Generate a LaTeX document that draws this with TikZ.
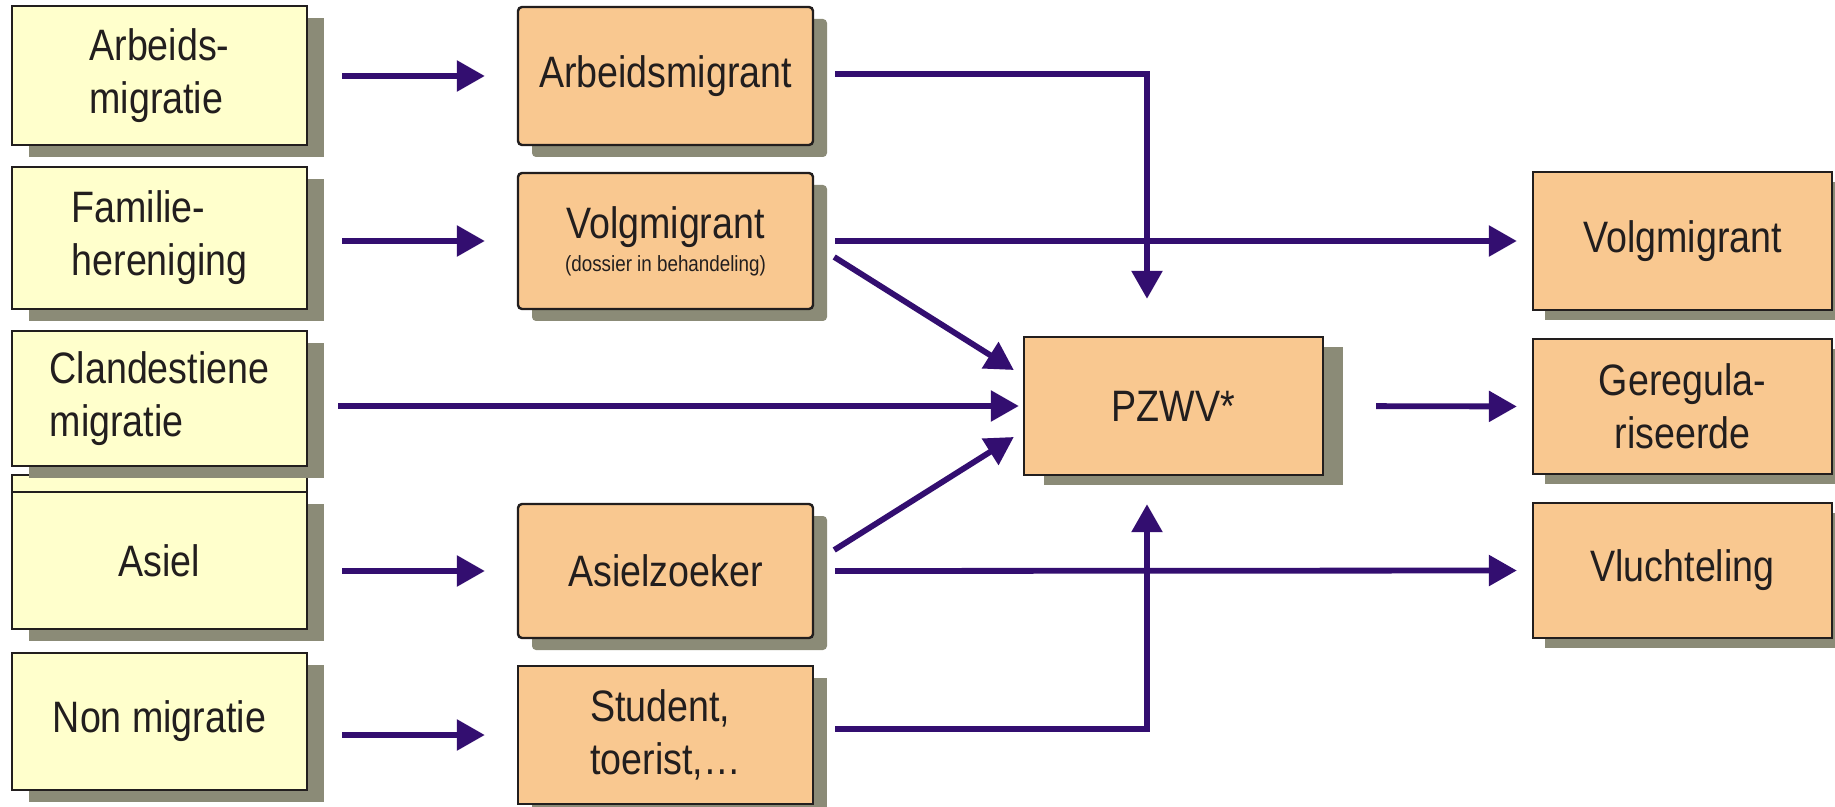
\documentclass[tikz,border=0pt]{standalone}
\usepackage{fontspec}
\setmainfont{Liberation Sans}[FakeStretch=0.855]
\usetikzlibrary{arrows.meta,shadows,calc}
\definecolor{boxyellow}{RGB}{255,255,204}
\definecolor{boxorange}{RGB}{249,200,144}
\definecolor{shadowc}{RGB}{139,139,119}
\definecolor{edgec}{RGB}{34,30,30}
\definecolor{arrowc}{RGB}{51,14,112}
\tikzset{
  base/.style={draw=edgec, line width=1.2pt, inner sep=0pt, text=edgec,
    font=\fontsize{22}{26.5}\selectfont},
  leftbox/.style={base, fill=boxyellow, minimum width=147.5pt, align=left,
    drop shadow={shadow xshift=8.5pt, shadow yshift=-6pt, fill=shadowc, opacity=1}},
  backbox/.style={base, fill=boxyellow, minimum width=147.5pt},
  midbox/.style={base, fill=boxorange, minimum width=147.5pt, align=center, rounded corners=2pt,
    drop shadow={shadow xshift=7pt, shadow yshift=-6pt, fill=shadowc, opacity=1}},
  pzwvbox/.style={base, fill=boxorange, minimum width=149.5pt, align=center,
    drop shadow={shadow xshift=10pt, shadow yshift=-5pt, fill=shadowc, opacity=1}},
  rightbox/.style={base, fill=boxorange, minimum width=149.5pt, align=center,
    drop shadow={shadow xshift=6pt, shadow yshift=-5pt, fill=shadowc, opacity=1}},
  flow/.style={draw=arrowc, line width=2.9pt, -{Triangle[length=14pt,width=15pt]}},
}
\begin{document}
\begin{tikzpicture}[x=0.5pt, y=-0.5pt]
\useasboundingbox[fill=white] (0,0) rectangle (1835,807);

% left column
\node[backbox, minimum height=67pt] (Lb) at (159.5,542) {};
\node[leftbox, minimum height=69.5pt] (L1) at (159.5,75.5) {Arbeids-\\migratie};
\node[leftbox, minimum height=71pt] (L2) at (159.5,238) {Familie-\\hereniging};
\node[leftbox, minimum height=67.5pt] (L3) at (159.5,398.5) {Clandestiene\\migratie};
\node[leftbox, minimum height=68.5pt] (L4) at (159.5,560.5) {Asiel};
\node[leftbox, minimum height=68.5pt] (L5) at (159.5,721.5) {Non migratie};

% middle column
\node[midbox, minimum height=69pt] (M1) at (665.5,76) {Arbeidsmigrant};
\node[midbox, minimum height=68pt] (M2) at (665.5,241)
  {Volgmigrant\\[-10pt]{\fontsize{11}{13}\selectfont (dossier in behandeling)}};
\node[midbox, minimum height=67pt] (M3) at (665.5,571) {Asielzoeker};
\node[midbox, rounded corners=0pt, minimum height=69pt, align=left] (M4) at (665.5,735) {Student,\\toerist,…};

% centre
\node[pzwvbox, minimum height=69pt] (P) at (1173.5,406) {PZWV*};

% right column
\node[rightbox, minimum height=69pt] (R1) at (1682.5,241) {Volgmigrant};
\node[rightbox, minimum height=67.5pt] (R2) at (1682.5,406.5) {Geregula-\\riseerde};
\node[rightbox, minimum height=67.5pt] (R3) at (1682.5,570.5) {Vluchteling};

% connectors
\draw[flow, shorten <=17pt, shorten >=16pt] (L1.east |- M1.west) -- (M1.west);
\draw[flow, shorten <=17pt, shorten >=16pt] (L2.east |- M2.west) -- (M2.west);
\draw[flow, shorten <=15pt, shorten >=2pt] (L3.east |- P.west) -- (P.west);
\draw[flow, shorten <=17pt, shorten >=16pt] (L4.east |- M3.west) -- (M3.west);
\draw[flow, shorten <=17pt, shorten >=16pt] (L5.east |- M4.west) -- (M4.west);

\draw[flow, shorten <=10.5pt, shorten >=18.5pt] ($(M1.east)+(0,-2)$) -| ($(P.north)+(-26.5,0)$);
\draw[flow, shorten <=10.5pt, shorten >=7.5pt] (M2.east) -- (R1.west);
\draw[flow] ($(M2.east)+(20,16)$) -- ($(P.west)+(-9,-36)$);
\draw[flow] ($(M3.east)+(20,-21)$) -- ($(P.west)+(-9,31)$);
\draw[flow, shorten <=10.5pt, shorten >=7.5pt] (M3.east) -- (R3.west);
\draw[flow, shorten <=10.5pt, shorten >=14pt] ($(M4.east)+(0,-6)$) -| ($(P.south)+(-26.5,0)$);
\draw[flow, shorten <=26pt, shorten >=7.5pt] (P.east) -- (R2.west);
\end{tikzpicture}
\end{document}
